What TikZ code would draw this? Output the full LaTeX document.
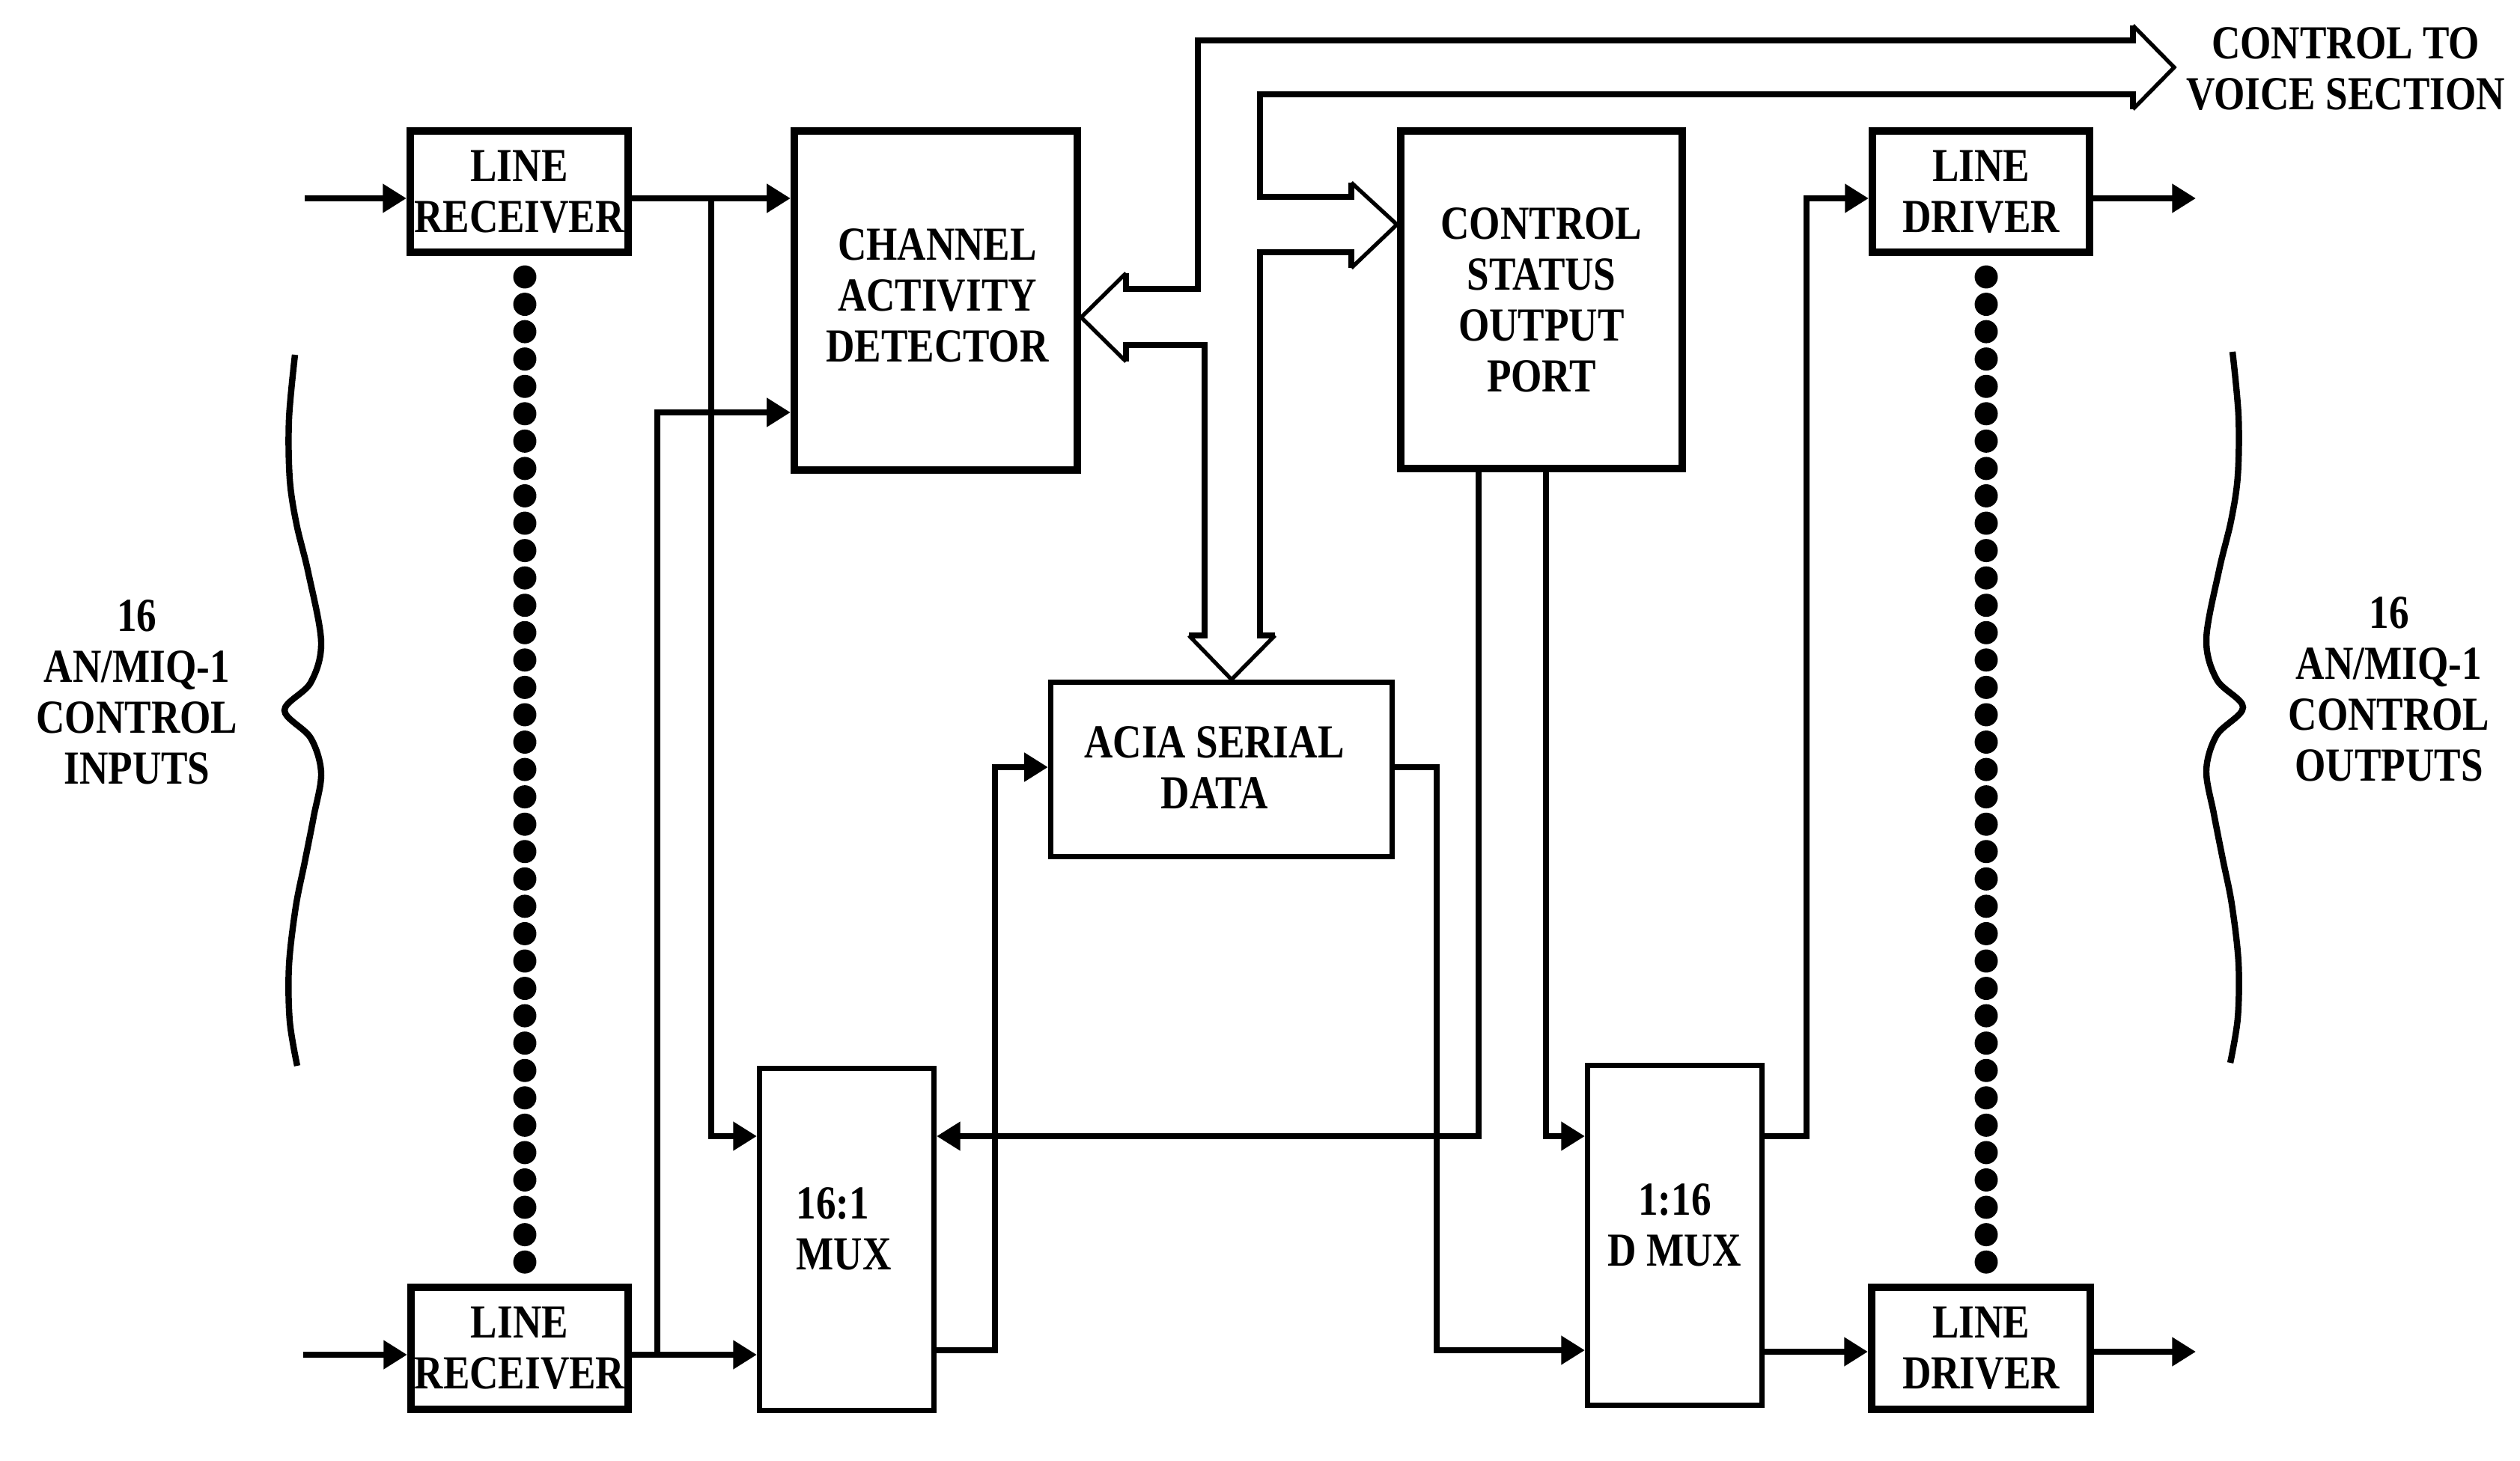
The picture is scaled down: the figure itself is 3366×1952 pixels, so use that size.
\documentclass[tikz,border=0pt]{standalone}
\usepackage{fontspec}
\setmainfont{Liberation Serif}[FakeStretch=0.84]
\usetikzlibrary{arrows.meta}
\newcommand\lblfont{\bfseries\fontsize{18}{19.35}\selectfont}
\begin{document}
\begin{tikzpicture}[x=0.01cm,y=-0.01cm,
  thickbox/.style={draw, line width=2.85pt, inner sep=0pt},
  thinbox/.style={draw, line width=2pt, inner sep=0pt},
  lbl/.style={font=\lblfont, align=center, inner sep=0pt},
  conn/.style={line width=2.3pt, -{Triangle[length=9pt,width=10.5pt]}},
  busline/.style={line width=2.3pt, line join=miter},
  bushead/.style={line width=1.5pt, line join=miter},
  bracestyle/.style={line width=2.4pt},
  bigdot/.style={circle, fill, inner sep=0pt, minimum size=8.8pt}]
\fill[white] (0,0) rectangle (3366,1952);
\useasboundingbox (0,0) rectangle (3366,1952);

% boxes
\node[thickbox, minimum width=2.91cm, minimum height=1.62cm, lbl] (lrT) at (693.5,256) {LINE\\RECEIVER};
\node[thickbox, minimum width=2.90cm, minimum height=1.63cm, lbl] (lrB) at (694,1801.5) {LINE\\RECEIVER};
\node[thickbox, minimum width=3.78cm, minimum height=4.53cm] (cad) at (1250,401.5) {};
\node[lbl] (cadt) at (1252,395) {CHANNEL\\ACTIVITY\\DETECTOR};
\node[thickbox, minimum width=3.76cm, minimum height=4.51cm, lbl] (csop) at (2059,400.5) {CONTROL\\STATUS\\OUTPUT\\PORT};
\node[thickbox, minimum width=2.90cm, minimum height=1.62cm, lbl] (ldT) at (2646,256) {LINE\\DRIVER};
\node[thickbox, minimum width=2.92cm, minimum height=1.63cm, lbl] (ldB) at (2646,1801.5) {LINE\\DRIVER};
\node[thinbox, minimum width=2.33cm, minimum height=4.57cm] (mux) at (1131,1656) {};
\node[lbl, align=left, anchor=west] (muxt) at (1063,1642) {16:1\\MUX};
\node[thinbox, minimum width=2.33cm, minimum height=4.54cm] (dmux) at (2237,1650.5) {};
\node[lbl] (dmuxt) at (2237,1637) {1:16\\D MUX};
\node[thinbox, minimum width=4.56cm, minimum height=2.33cm] (acia) at (1631.5,1028) {};
\node[lbl] (aciat) at (1622,1026) {ACIA SERIAL\\DATA};

% outside labels
\node[lbl] (inlbl) at (183,925) {16\\AN/MIQ-1\\CONTROL\\INPUTS};
\node[lbl] (outlbl) at (3191,921) {16\\AN/MIQ-1\\CONTROL\\OUTPUTS};
\node[lbl] (voice) at (3133,92) {CONTROL TO\\VOICE SECTION};

% dotted columns
\foreach \i in {0,...,36} {
  \node[bigdot] (dl\i) at (701,{370+36.56*\i}) {};
  \node[bigdot] (dr\i) at (2653,{370+36.56*\i}) {};
}

% braces
\draw[bracestyle] plot[smooth, tension=0.55] coordinates {(394,474) (386,560) (387,640) (396,700) (412,766) (429,858) (415,912) (380,949) (415,986) (429,1033) (419,1091) (407,1152) (395,1212) (386,1290) (387,1364) (397,1424)};
\draw[bracestyle] plot[smooth, tension=0.55] coordinates {(2982,470) (2990,556) (2989,636) (2980,696) (2964,762) (2947,854) (2961,908) (2996,945) (2961,982) (2947,1029) (2957,1087) (2969,1148) (2981,1208) (2990,1286) (2989,1360) (2979,1420)};

% connectors
\coordinate (inT) at (407,265);
\coordinate (inB) at (405,1810);
\coordinate (jT) at (950,265);
\coordinate (jB) at (878,1810);
\coordinate (outT) at (2933,265);
\coordinate (outB) at (2933,1806);
\draw[conn] (inT) -- (inT -| lrT.west);
\draw[conn] (inT -| lrT.east) -- (inT -| cad.west);
\draw[conn] (jT) |- (mux.west |- 0,1518);
\draw[conn] (inB) -- (inB -| lrB.west);
\draw[conn] (inB -| lrB.east) -- (inB -| mux.west);
\draw[conn] (jB) |- (cad.west |- 0,551);
\draw[conn] (mux.east |- 0,1804) -| (1329,1025) -- (acia.west |- 0,1025);
\draw[conn] (acia.east |- 0,1025) -| (1919,1804) -- (dmux.west |- 0,1804);
\draw[conn] (csop.south -| 1975,0) |- (mux.east |- 0,1518);
\draw[conn] (csop.south -| 2065,0) |- (dmux.west |- 0,1518);
\draw[conn] (dmux.east |- 0,1518) -| (2413,265) -- (ldT.west |- 0,265);
\draw[conn] (dmux.east |- 0,1806) -- (ldB.west |- 0,1806);
\draw[conn] (ldT.east |- 0,265) -- (outT);
\draw[conn] (ldB.east |- 0,1806) -- (outB);

% bus (hollow double-line arrows)
\coordinate (apCad) at (cad.east |- 0,424);
\coordinate (apCsop) at (csop.west |- 0,300);
\coordinate (apAcia) at (acia.north -| 1645,0);
\coordinate (apVoice) at (2904,90);
\draw[busline] (1504,365) -- (1504,386) -- (1600,386) -- (1600,54) -- (2849,54) -- (2849,34);
\draw[bushead] (2849,34) -- (apVoice) -- (2849,146);
\draw[busline] (2849,146) -- (2849,126) -- (1683,126) -- (1683,263) -- (1805,263) -- (1805,244);
\draw[bushead] (1805,244) -- (apCsop) -- (1805,358);
\draw[busline] (1805,358) -- (1805,337) -- (1683,337) -- (1683,849) -- (1703,849);
\draw[bushead] (1703,849) -- (apAcia) -- (1588,849);
\draw[busline] (1588,849) -- (1609,849) -- (1609,461) -- (1504,461) -- (1504,483);
\draw[bushead] (1504,483) -- (apCad) -- (1504,365);
\end{tikzpicture}
\end{document}
